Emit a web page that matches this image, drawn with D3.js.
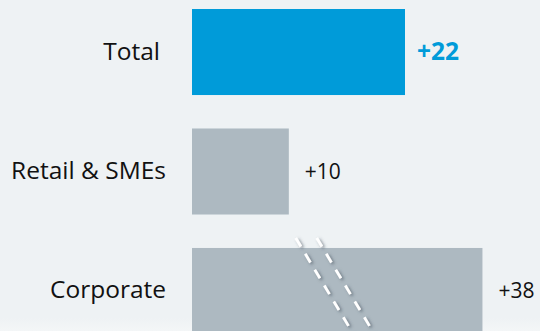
<!DOCTYPE html>
<html>
<head>
<meta charset="utf-8">
<script src="https://cdn.jsdelivr.net/npm/d3@7"></script>
<style>
  html, body { margin: 0; padding: 0; background: #eef2f4; }
  svg { display: block; }
  text { font-family: "Open Sans", "Noto Sans", sans-serif; }
</style>
</head>
<body>
<svg id="chart" width="540" height="331"></svg>
<script>
// Net change by segment
const categories = ["Total", "Retail & SMEs", "Corporate"];
const values = [22, 10, 38];
const valueLabels = ["+22", "+10", "+38"];
const highlight = ["Total"];

// Bars longer than this are truncated and drawn with a break marker
const axisCap = 30;
const breakAt = 14;

const W = 540, H = 331;
const svg = d3.select("#chart");

// background with a lighter strip along the bottom edge
const defs = svg.append("defs");
const grad = defs.append("linearGradient").attr("id", "bgFade")
  .attr("x1", 0).attr("y1", 0).attr("x2", 0).attr("y2", 1);
grad.append("stop").attr("offset", "0%").attr("stop-color", "#eef2f4");
grad.append("stop").attr("offset", "100%").attr("stop-color", "#f4f6f7");
svg.append("rect").attr("width", W).attr("height", H).attr("fill", "#eef2f4");
svg.append("rect").attr("y", 318).attr("width", W).attr("height", H - 318).attr("fill", "url(#bgFade)");

const shadow = defs.append("filter").attr("id", "dashShadow")
  .attr("x", "-50%").attr("y", "-10%").attr("width", "200%").attr("height", "120%");
shadow.append("feDropShadow").attr("dx", 2).attr("dy", 1.5)
  .attr("stdDeviation", 1.4).attr("flood-color", "#3e4a54").attr("flood-opacity", 0.6);

const x = d3.scaleLinear().domain([0, 22]).range([192, 405]);
const y = d3.scaleBand().domain(categories).range([9, 334])
  .paddingInner(0.28).paddingOuter(0);

const rows = categories.map((c, i) => ({
  cat: c, value: values[i], label: valueLabels[i],
  hi: highlight.includes(c), broken: values[i] > axisCap
}));

const g = svg.selectAll("g.row").data(rows).join("g").attr("class", "row");

g.append("rect")
  .attr("x", x(0))
  .attr("y", d => y(d.cat))
  .attr("width", d => x(Math.min(d.value, axisCap)) - x(0))
  .attr("height", y.bandwidth())
  .attr("fill", d => d.hi ? "#009bd9" : "#adb9c1");

g.append("text")
  .attr("x", d => d.hi ? 160 : 166)
  .attr("y", d => y(d.cat) + y.bandwidth() / 2 + 7.5)
  .attr("text-anchor", "end")
  .attr("font-size", 24.5)
  .attr("fill", "#111")
  .text(d => d.cat);

g.append("text")
  .attr("x", d => x(Math.min(d.value, axisCap)) + (d.hi ? 12 : 16))
  .attr("y", d => y(d.cat) + y.bandwidth() / 2 + 7.5)
  .attr("font-size", d => d.hi ? 24.5 : 21)
  .attr("font-weight", d => d.hi ? 700 : 400)
  .attr("fill", d => d.hi ? "#009bd9" : "#111")
  .text(d => d.label);

// break marker: two parallel dashed diagonals across truncated bars
const slope = 0.6, gap = 21;
rows.filter(d => d.broken).forEach(d => {
  const cy = y(d.cat) + y.bandwidth() / 2;
  const y0 = y(d.cat) - 10, y1 = y(d.cat) + y.bandwidth() + 10;
  [0, gap].forEach(off => {
    const cx = x(breakAt) + off;
    svg.append("line")
      .attr("x1", cx + (y0 - cy) * slope).attr("y1", y0)
      .attr("x2", cx + (y1 - cy) * slope).attr("y2", y1)
      .attr("stroke", "#ffffff")
      .attr("stroke-width", 2.8)
      .attr("stroke-dasharray", "10 8.5")
      .attr("filter", "url(#dashShadow)");
  });
});
</script>
</body>
</html>
